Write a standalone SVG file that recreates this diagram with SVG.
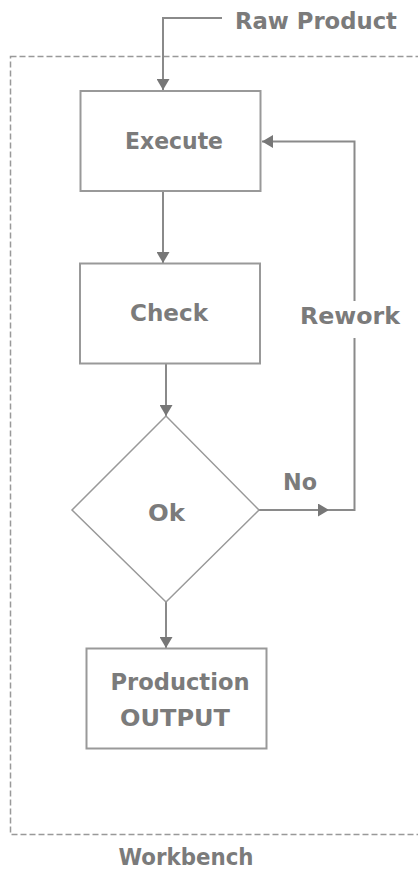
<svg xmlns="http://www.w3.org/2000/svg" width="418" height="877" viewBox="0 0 418 877">
<style>
.lbl{font-family:"DejaVu Sans","Verdana",sans-serif;font-weight:bold;font-size:23px;fill:#7b7b7b;text-anchor:middle}
.box{fill:#ffffff;stroke:#999999;stroke-width:2}
.ln{fill:none;stroke:#8a8a8a;stroke-width:2}
.frame{fill:none;stroke:#999999;stroke-width:1.5;stroke-dasharray:6,3}
</style>
<defs>
<marker id="arr" markerUnits="userSpaceOnUse" markerWidth="11" markerHeight="13" refX="11" refY="6.5" orient="auto" viewBox="0 0 11 13">
<path d="M0,0 L11,6.5 L0,13 z" fill="#777777"/>
</marker>
</defs>
<rect width="418" height="877" fill="#ffffff"/>
<g id="workbench">
<rect class="frame" x="10.5" y="56.5" width="420" height="778"/>
<text class="lbl" x="186" y="865" textLength="135" lengthAdjust="spacingAndGlyphs">Workbench</text>
</g>
<g id="connectors">
<path class="ln" d="M222,18 H163 V90" marker-end="url(#arr)"/>
<path class="ln" d="M163,192 V263" marker-end="url(#arr)"/>
<path class="ln" d="M166,364 V416" marker-end="url(#arr)"/>
<path class="ln" d="M166,602 V648" marker-end="url(#arr)"/>
<path class="ln" d="M259,510 H329" marker-end="url(#arr)"/>
<path class="ln" d="M328,510 H354.5 V338"/>
<path class="ln" d="M354.5,301 V141.5 H262" marker-end="url(#arr)"/>
<text class="lbl" x="300" y="490" textLength="34" lengthAdjust="spacingAndGlyphs">No</text>
<text class="lbl" x="350" y="324" textLength="100" lengthAdjust="spacingAndGlyphs">Rework</text>
</g>
<g id="raw-product">
<text class="lbl" x="316" y="29" textLength="162" lengthAdjust="spacingAndGlyphs">Raw Product</text>
</g>
<g id="execute">
<rect class="box" x="80.5" y="91" width="180" height="100"/>
<text class="lbl" x="174" y="149" textLength="98" lengthAdjust="spacingAndGlyphs">Execute</text>
</g>
<g id="check">
<rect class="box" x="80" y="263.5" width="180" height="100"/>
<text class="lbl" x="169" y="321" textLength="78" lengthAdjust="spacingAndGlyphs">Check</text>
</g>
<g id="ok">
<polygon class="box" points="166,416 259,510 166,602 72,510" style="stroke-width:1.5"/>
<text class="lbl" x="166.5" y="521" textLength="37" lengthAdjust="spacingAndGlyphs">Ok</text>
</g>
<g id="production-output">
<rect class="box" x="86.5" y="648.5" width="180" height="100"/>
<text class="lbl" x="180" y="690" textLength="139" lengthAdjust="spacingAndGlyphs">Production</text>
<text class="lbl" x="175" y="726" textLength="110" lengthAdjust="spacingAndGlyphs">OUTPUT</text>
</g>
</svg>
